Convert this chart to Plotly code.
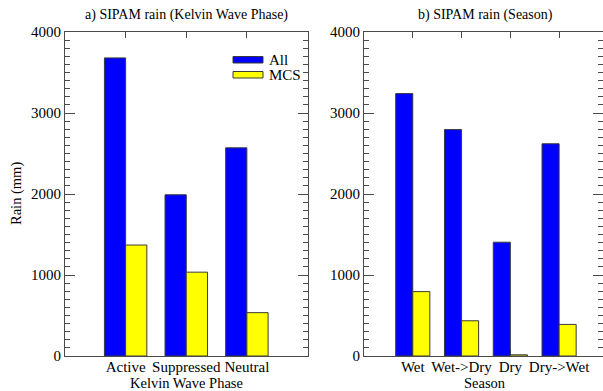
import plotly.graph_objects as go

# Rainfall totals (mm) from SIPAM radar
kelvin_phases = ["Active", "Suppressed", "Neutral"]
kelvin_all = [3680, 1990, 2570]
kelvin_mcs = [1370, 1035, 535]

seasons = ["Wet", "Wet->Dry", "Dry", "Dry->Wet"]
season_all = [3240, 2795, 1405, 2620]
season_mcs = [795, 435, 15, 390]

W, H = 603, 391
ML, MR, MT, MB = 0, 0, 32, 35
PW, PH = W - ML - MR, H - MT - MB

BLUE = "#0000FF"
YELLOW = "#FFFF00"
EDGE = "#3a3a3a"
AXC = "#4a4a4a"
FONT = "Liberation Serif"


def px_x(p):
    return (p - ML) / PW


def px_y(p):
    return (H - MB - p) / PH


fig = go.Figure()

bar_line = dict(color=EDGE, width=1)
fig.add_trace(go.Bar(x=kelvin_phases, y=kelvin_all, marker=dict(color=BLUE, line=bar_line),
                     xaxis="x", yaxis="y", showlegend=False, name="All"))
fig.add_trace(go.Bar(x=kelvin_phases, y=kelvin_mcs, marker=dict(color=YELLOW, line=bar_line),
                     xaxis="x", yaxis="y", showlegend=False, name="MCS"))
fig.add_trace(go.Bar(x=seasons, y=season_all, marker=dict(color=BLUE, line=bar_line),
                     xaxis="x2", yaxis="y2", showlegend=False, name="All"))
fig.add_trace(go.Bar(x=seasons, y=season_mcs, marker=dict(color=YELLOW, line=bar_line),
                     xaxis="x2", yaxis="y2", showlegend=False, name="MCS"))

tick_font = dict(family=FONT, size=15, color="black")

common_x = dict(
    type="category", showline=True, linecolor=AXC, linewidth=1, mirror="ticks",
    ticks="inside", ticklen=6, tickcolor=AXC, tickfont=tick_font, ticklabelstandoff=-3,
    showgrid=False, zeroline=False, layer="below traces", fixedrange=True,
)
common_y = dict(
    range=[0, 4000], dtick=1000, showline=True, linecolor=AXC, linewidth=1,
    mirror="ticks", ticks="inside", ticklen=10, tickcolor=AXC, tickfont=tick_font,
    minor=dict(dtick=100, ticks="inside", ticklen=5, tickcolor=AXC),
    showgrid=False, zeroline=False, fixedrange=True,
)

fig.update_layout(
    width=W, height=H,
    margin=dict(l=ML, r=MR, t=MT, b=MB),
    paper_bgcolor="white", plot_bgcolor="white",
    barmode="group", bargap=0.3, bargroupgap=0,
    font=tick_font,
    xaxis=dict(common_x, domain=[px_x(65), px_x(307.5)], range=[-1, 3], anchor="y"),
    yaxis=dict(common_y, domain=[0, 1], anchor="x"),
    xaxis2=dict(common_x, domain=[px_x(364), 1.0], range=[-1, 3.9], anchor="y2"),
    yaxis2=dict(common_y, domain=[0, 1], anchor="x2"),
)


def label(text, x, y, angle=0, anchor="center", size=14):
    fig.add_annotation(text=text, xref="paper", yref="paper", x=px_x(x), y=px_y(y),
                       showarrow=False, xanchor=anchor, yanchor="middle",
                       textangle=angle, font=dict(family=FONT, size=size, color="black"))


# Panel titles and axis titles
label("a) SIPAM rain (Kelvin Wave Phase)", 186, 15)
label("b) SIPAM rain (Season)", 485, 15)
label("Kelvin Wave Phase", 186, 383, size=14.5)
label("Season", 485, 383, size=14.5)
label("Rain (mm)", 16, 194, angle=-90, size=14.5)

# Legend in panel a: wide swatches with labels
for (y0, y1, color, name) in [(56.5, 63, BLUE, "All"), (71.5, 78, YELLOW, "MCS")]:
    fig.add_shape(type="rect", xref="paper", yref="paper",
                  x0=px_x(233), x1=px_x(263), y0=px_y(y1), y1=px_y(y0),
                  fillcolor=color, line=dict(color=EDGE, width=1))
    label(name, 267, (y0 + y1) / 2, anchor="left", size=15)

fig.write_html("out.html")
